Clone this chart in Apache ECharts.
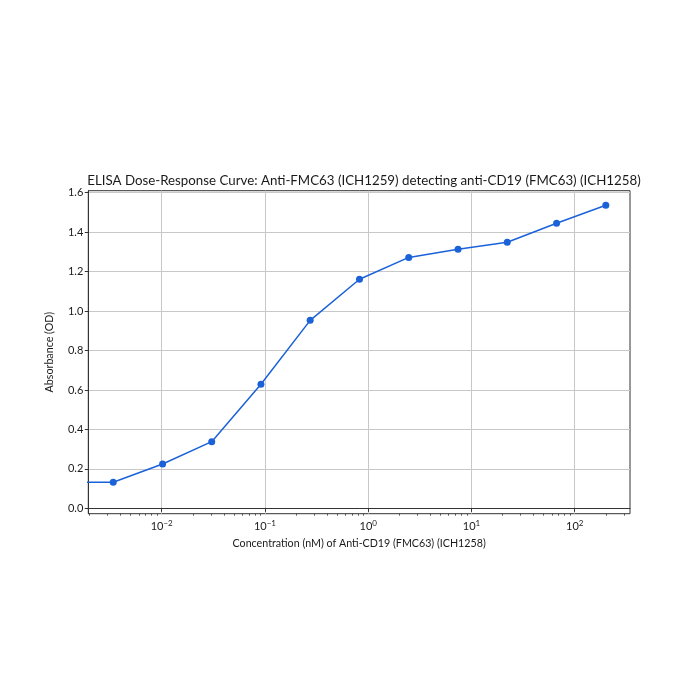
<!DOCTYPE html>
<html>
<head>
<meta charset="utf-8">
<script src="https://cdn.jsdelivr.net/npm/echarts@6/dist/echarts.min.js"></script>
<style>html,body{margin:0;padding:0;background:#fff}#c{width:700px;height:700px}</style>
</head>
<body>
<div id="c"></div>
<script>
const concentrations = [0.00339, 0.0102, 0.0305, 0.0914, 0.274, 0.823, 2.47, 7.41, 22.2, 66.7, 200];
const absorbance = [0.132, 0.225, 0.338, 0.629, 0.953, 1.161, 1.272, 1.313, 1.349, 1.445, 1.536];
const blankConc = 1e-6;
const blankAbs = 0.132;
const yTicks = [0, 0.2, 0.4, 0.6, 0.8, 1.0, 1.2, 1.4, 1.6];
const xMajor = [0.01, 0.1, 1, 10, 100];
const xMinor = [];
[0.001, 0.01, 0.1, 1, 10, 100].forEach(d => { for (let k = 2; k <= 9; k++) xMinor.push(d * k); });

const FONT = 'Lato';
const supMap = {'-2': '−2', '-1': '−1', '0': '0', '1': '1', '2': '2'};
const xMin = 0.001945, xMax = 343;

const chart = echarts.init(document.getElementById('c'));
chart.setOption({
  animation: false,
  backgroundColor: '#fff',
  textStyle: {fontFamily: FONT},
  title: {
    text: 'ELISA Dose-Response Curve: Anti-FMC63 (ICH1259) detecting anti-CD19 (FMC63) (ICH1258)',
    left: 359, top: 169, textAlign: 'center',
    textStyle: {fontFamily: FONT, fontSize: 13.3, fontWeight: 'normal', color: '#1a1a1a'}
  },
  grid: {left: 88.3, right: 70, top: 190.7, bottom: 186.3, show: true, borderColor: '#333', borderWidth: 1, backgroundColor: 'transparent'},
  xAxis: [{
    type: 'log', logBase: 10, min: xMin, max: xMax,
    name: 'Concentration (nM) of Anti-CD19 (FMC63) (ICH1258)',
    nameLocation: 'middle', nameGap: 24,
    nameTextStyle: {fontFamily: FONT, fontSize: 10.7, color: '#1a1a1a'},
    axisLine: {show: true, lineStyle: {color: '#333', width: 1}},
    axisTick: {show: true, inside: false, length: 3.5, customValues: xMajor, lineStyle: {color: '#333'}},
    axisLabel: {
      customValues: xMajor, margin: 6, color: '#1a1a1a',
      formatter: v => { const e = Math.round(Math.log10(v)); return '{b|10}{s|' + supMap[String(e)] + '}'; },
      rich: {b: {fontFamily: FONT, fontSize: 11, color: '#1a1a1a'}, s: {fontFamily: FONT, fontSize: 8, color: '#1a1a1a', verticalAlign: 'top', padding: [0, 0, 6, 0]}}
    },
    splitLine: {show: true, lineStyle: {color: '#c8c8c8', width: 1}}
  }, {
    type: 'log', logBase: 10, min: xMin, max: xMax, position: 'bottom',
    axisLine: {show: false},
    axisTick: {show: true, inside: false, length: 2, customValues: xMinor, lineStyle: {color: '#333', width: 0.8}},
    axisLabel: {show: false},
    splitLine: {show: false}
  }],
  yAxis: {
    type: 'value', min: -0.027, max: 1.61,
    name: 'Absorbance (OD)', nameLocation: 'middle', nameGap: 33,
    nameTextStyle: {fontFamily: FONT, fontSize: 10.7, color: '#1a1a1a'},
    axisLine: {show: true, lineStyle: {color: '#333', width: 1}},
    axisTick: {show: true, inside: false, length: 3.5, customValues: yTicks, lineStyle: {color: '#333'}},
    axisLabel: {customValues: yTicks, margin: 5, fontFamily: FONT, fontSize: 11, color: '#1a1a1a', formatter: v => v.toFixed(1)},
    splitLine: {show: true, lineStyle: {color: '#c8c8c8', width: 1}}
  },
  series: [{
    type: 'line', clip: true, showSymbol: false, symbol: 'none',
    lineStyle: {color: '#1b62d9', width: 1.5},
    data: [[blankConc, blankAbs], [concentrations[0], blankAbs]]
  }, {
    type: 'line', clip: true, symbol: 'circle', symbolSize: 7,
    itemStyle: {color: '#1b62d9'},
    lineStyle: {color: '#1b62d9', width: 1.5},
    data: concentrations.map((c, i) => [c, absorbance[i]])
  }]
});
</script>
</body>
</html>
